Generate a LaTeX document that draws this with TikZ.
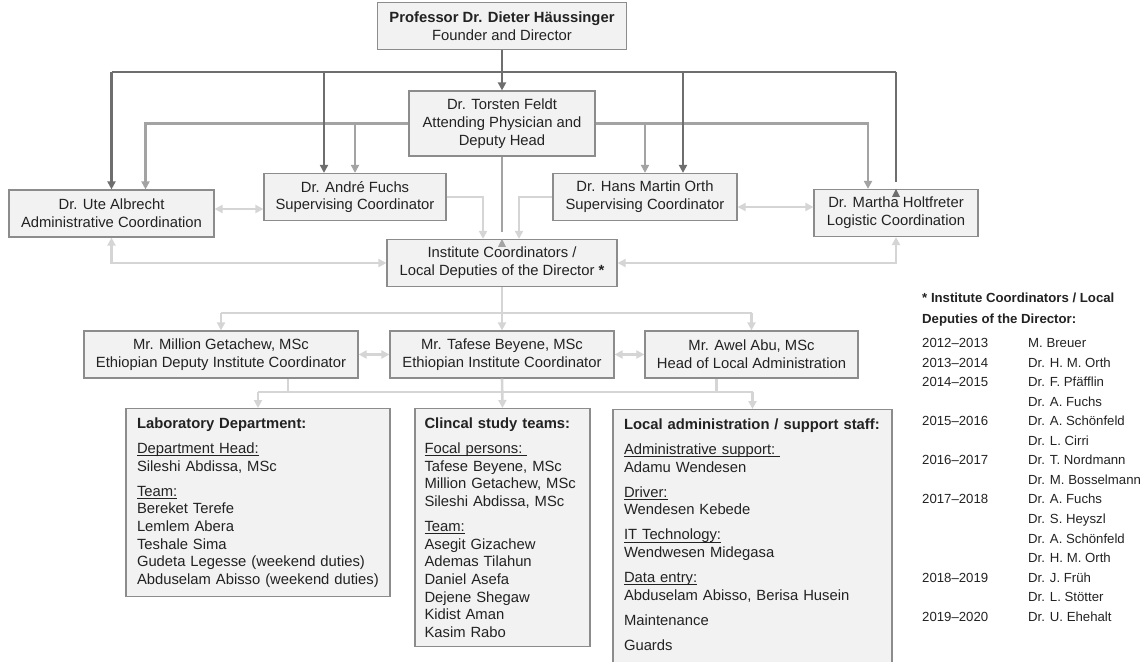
\documentclass[tikz,border=0pt]{standalone}
\usepackage{fontspec}
\setmainfont{Liberation Sans}
\usetikzlibrary{arrows.meta, calc}

\definecolor{boxfill}{HTML}{F2F2F2}
\definecolor{boxline}{HTML}{8C8C8C}
\definecolor{darkgr}{HTML}{6E6E6E}
\definecolor{midgr}{HTML}{A3A3A3}
\definecolor{lightgr}{HTML}{D5D5D5}
\definecolor{txt}{HTML}{222222}

\newcommand{\boxfont}{\fontsize{14.8}{17.7}\selectfont}
\newcommand{\tabfont}{\fontsize{13.2}{19.5}\selectfont}
\newcommand{\gap}{\\[7.3pt]}
\newcommand{\uln}[1]{\leavevmode\setbox0\hbox{#1}\rlap{\vrule height -2pt depth 3pt width \wd0}\box0}

\tikzset{
  orgbox/.style={draw=boxline, fill=boxfill, line width=1.2pt, text=txt, align=center, font=\boxfont, inner sep=0pt, minimum height=47pt},
  teambox/.style={draw=boxline, fill=boxfill, line width=1.2pt, text=txt, align=left, font=\boxfont, anchor=north, inner xsep=11pt, inner ysep=9pt},
  darkline/.style={draw=darkgr, line width=2.6pt},
  midline/.style={draw=midgr, line width=2.2pt},
  lightline/.style={draw=lightgr, line width=2.6pt},
  tabtext/.style={text=txt, font=\tabfont, anchor=base west, inner sep=0pt},
}

\begin{document}
\begin{tikzpicture}[x=1pt, y=-1pt, >={Triangle[width=8pt, length=8pt]}]

\useasboundingbox (0,0) rectangle (1148,661);

% boxes
\node[orgbox, minimum width=249pt] (dir) at (502,26) {\textbf{Professor Dr. Dieter Häussinger}\\Founder and Director};
\node[orgbox, minimum width=186pt, minimum height=65pt] (feldt) at (502,123.5) {Dr. Torsten Feldt\\Attending Physician and\\Deputy Head};
\node[orgbox, minimum width=205pt] (albrecht) at (111.5,213.5) {Dr. Ute Albrecht\\Administrative Coordination};
\node[orgbox, minimum width=182pt] (fuchs) at (355,197) {Dr. André Fuchs\\Supervising Coordinator};
\node[orgbox, minimum width=184pt] (orth) at (645,197) {Dr. Hans Martin Orth\\Supervising Coordinator};
\node[orgbox, minimum width=164pt] (holtfreter) at (896,213) {Dr. Martha Holtfreter\\Logistic Coordination};
\node[orgbox, minimum width=230pt] (coord) at (502,263) {Institute Coordinators /\\Local Deputies of the Director \textbf{*}};

\node[orgbox, minimum width=274pt] (getachew) at (221,354.5) {Mr. Million Getachew, MSc\\Ethiopian Deputy Institute Coordinator};
\node[orgbox, minimum width=224pt] (beyene) at (502,354.5) {Mr. Tafese Beyene, MSc\\Ethiopian Institute Coordinator};
\node[orgbox, minimum width=213pt] (abu) at (751.5,354.5) {Mr. Awel Abu, MSc\\Head of Local Administration};

\node[teambox, text width=242pt] (lab) at (258,408) {\textbf{Laboratory Department:}\gap
  \uln{Department Head:}\\Sileshi Abdissa, MSc\gap
  \uln{Team:}\\Bereket Terefe\\Lemlem Abera\\Teshale Sima\\Gudeta Legesse (weekend duties)\\Abduselam Abisso (weekend duties)};
\node[teambox, text width=156pt, inner xsep=9.5pt] (clinic) at (502.5,408) {\textbf{Clincal study teams:}\gap
  \uln{Focal persons:\ }\\Tafese Beyene, MSc\\Million Getachew, MSc\\Sileshi Abdissa, MSc\gap
  \uln{Team:}\\Asegit Gizachew\\Ademas Tilahun\\Daniel Asefa\\Dejene Shegaw\\Kidist Aman\\Kasim Rabo};
\node[teambox, text width=257pt] (admin) at (752.5,409) {\textbf{Local administration / support staff:}\gap
  \uln{Administrative support:\ }\\Adamu Wendesen\gap
  \uln{Driver:}\\Wendesen Kebede\gap
  \uln{IT Technology:}\\Wendwesen Midegasa\gap
  \uln{Data entry:}\\Abduselam Abisso, Berisa Husein\gap
  Maintenance\gap
  Guards\\[12pt]\mbox{}};

\coordinate (topbus) at (0,72);
\coordinate (midbus) at (0,313);
\coordinate (lowbus) at (0,392);

% deputy head
\draw[midline, ->] (feldt.west) -| ([xshift=34pt]albrecht.north);
\draw[midline, ->] (fuchs.north |- feldt.west) -- (fuchs.north);
\draw[midline, ->] (feldt.east) -| ([xshift=-28pt]holtfreter.north);
\draw[midline, ->] (orth.north |- feldt.east) -- (orth.north);
\draw[midline, shorten >=7pt] (feldt.south) -- (coord.north);
\fill[midgr] (coord.north) -- ++(-4,8) -- ++(8,0) -- cycle;

% director
\draw[darkline, ->] (dir.south) -- (feldt.north);
\draw[darkline] (albrecht.north |- topbus) -- (holtfreter.north |- topbus);
\draw[darkline, ->] (albrecht.north |- topbus) -- (albrecht.north);
\draw[darkline, ->] ([xshift=-31pt]fuchs.north |- topbus) -- ([xshift=-31pt]fuchs.north);
\draw[darkline, ->] ([xshift=38pt]orth.north |- topbus) -- ([xshift=38pt]orth.north);
\draw[darkline, shorten >=7pt] (holtfreter.north |- topbus) -- (holtfreter.north);
\fill[darkgr] (holtfreter.north) -- ++(-4,8) -- ++(8,0) -- cycle;

% coordination
\draw[lightline, <->] ([yshift=4.5pt]albrecht.east) -- ([yshift=4.5pt]albrecht.east -| fuchs.west);
\draw[lightline, <->] ([yshift=-10pt]orth.east) -- ([yshift=-10pt]orth.east -| holtfreter.west);
\draw[lightline, ->] (fuchs.east) -| ([xshift=-19pt]coord.north);
\draw[lightline, ->] (orth.west) -| ([xshift=17pt]coord.north);
\draw[lightline, <->] (albrecht.south) |- (coord.west);
\draw[lightline, <->] (coord.east) -| (holtfreter.south);

% local level
\draw[lightline] (getachew.north |- midbus) -- (abu.north |- midbus);
\draw[lightline, ->] (coord.south) -- (beyene.north);
\foreach \n in {getachew, abu}
  \draw[lightline, ->] (\n.north |- midbus) -- (\n.north);
\draw[lightline, <->] (getachew.east) -- (beyene.west);
\draw[lightline, <->] (beyene.east) -- (abu.west);

\draw[lightline] (lab.north |- lowbus) -- (admin.north |- lowbus);
\draw[lightline] ([xshift=67pt]getachew.south) -- ([xshift=67pt]getachew.south |- lowbus);
\draw[lightline] ([xshift=-35pt]abu.south) -- ([xshift=-35pt]abu.south |- lowbus);
\draw[lightline, ->] (beyene.south) -- (clinic.north);
\foreach \n in {lab, admin}
  \draw[lightline, ->] (\n.north |- lowbus) -- (\n.north);

% list of coordinators
\node[tabtext, font=\tabfont\bfseries] (tabhead) at (922,302.7) {* Institute Coordinators / Local};
\node[tabtext, font=\tabfont\bfseries] (tabhead2) at (922,323.7) {Deputies of the Director:};
\foreach \yr/\who [count=\i from 0] in {2012–2013/M. Breuer, 2013–2014/Dr. H. M. Orth, 2014–2015/Dr. F. Pfäfflin, /Dr. A. Fuchs,
  2015–2016/Dr. A. Schönfeld, /Dr. L. Cirri, 2016–2017/Dr. T. Nordmann, /Dr. M. Bosselmann,
  2017–2018/Dr. A. Fuchs, /Dr. S. Heyszl, /Dr. A. Schönfeld, /Dr. H. M. Orth,
  2018–2019/Dr. J. Früh, /Dr. L. Stötter, 2019–2020/Dr. U. Ehehalt}{
  \node[tabtext] (yr\i) at (922,{347.5+19.56*\i}) {\yr};
  \node[tabtext] (who\i) at (1028,{347.5+19.56*\i}) {\who};
}

\end{tikzpicture}
\end{document}
